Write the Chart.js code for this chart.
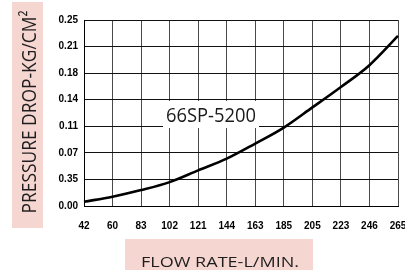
<!DOCTYPE html>
<html>
<head>
<meta charset="utf-8">
<script src="https://cdn.jsdelivr.net/npm/chart.js@4/dist/chart.umd.min.js"></script>
<style>
  html, body { margin: 0; padding: 0; background: #fff; }
  #wrap { position: relative; width: 405px; height: 270px; }
</style>
</head>
<body>
<div id="wrap"><canvas id="chart" width="405" height="270"></canvas></div>
<script>
(function () {
  var FLOW_LABELS = ['42', '60', '83', '102', '121', '144', '163', '185', '205', '223', '246', '265'];
  var PRESSURE = [0.0057, 0.0125, 0.0214, 0.0321, 0.0479, 0.0636, 0.0839, 0.1054, 0.1325, 0.160, 0.1893, 0.2286];
  // tick labels as printed on the sheet, bottom to top (the "0.35" is theirs)
  var Y_LABELS = ['0.00', '0.35', '0.07', '0.11', '0.14', '0.18', '0.21', '0.25'];
  var Y_MAX = 0.25;
  var MODEL = '66SP-5200';
  var X_TITLE = 'FLOW RATE-L/MIN.';
  var Y_TITLE = 'PRESSURE DROP-KG/CM\u00B2';

  var PINK = '#f5d6d0';
  var TITLE_FONT = '"Open Sans", "Noto Sans", sans-serif';
  var TICK_FONT = { family: '"Liberation Sans", Arial, sans-serif', size: 10, weight: 'bold' };

  // draw text squeezed/stretched to a given width
  function fitText(c, text, x, y, width) {
    var w = c.measureText(text).width;
    c.save();
    c.translate(x, y);
    c.scale(width / w, 1);
    c.fillText(text, 0, 0);
    c.restore();
  }

  var decorPlugin = {
    id: 'decor',
    beforeDraw: function (chart) {
      var c = chart.ctx;
      c.save();
      c.fillStyle = PINK;
      c.fillRect(12, 2, 31, 226);
      c.fillRect(125, 239, 188, 31);
      c.fillStyle = '#1e1e1e';
      c.textAlign = 'center';
      c.textBaseline = 'alphabetic';

      c.font = '14px ' + TITLE_FONT;
      fitText(c, X_TITLE, 220, 267, 158);

      c.save();
      c.translate(36, 112);
      c.rotate(-Math.PI / 2);
      c.font = '20px ' + TITLE_FONT;
      fitText(c, Y_TITLE, 0, 0, 203);
      c.restore();
      c.restore();
    },
    afterDatasetsDraw: function (chart) {
      var c = chart.ctx;
      c.save();
      c.fillStyle = '#fff';
      c.fillRect(163, 101, 96, 27);
      c.fillStyle = '#1a1a1a';
      c.textAlign = 'center';
      c.textBaseline = 'alphabetic';
      c.font = '20px ' + TITLE_FONT;
      fitText(c, MODEL, 211, 122, 90);
      c.restore();
    },
  };

  new Chart(document.getElementById('chart'), {
    type: 'line',
    data: {
      labels: FLOW_LABELS,
      datasets: [{
        data: PRESSURE,
        borderColor: '#000',
        borderWidth: 2.6,
        pointRadius: 0,
        fill: false,
        cubicInterpolationMode: 'monotone',
      }],
    },
    options: {
      responsive: false,
      animation: false,
      devicePixelRatio: 1,
      layout: { padding: { left: 0, right: 7, top: 20, bottom: 0 } },
      plugins: {
        legend: { display: false },
        tooltip: { enabled: false },
      },
      scales: {
        x: {
          offset: false,
          afterFit: function (s) {
            s.height = 64;
            s.paddingLeft = 0;
            s.paddingRight = 0;
          },
          grid: { color: '#4a4a4a', lineWidth: 1, drawTicks: false },
          border: { color: '#000', width: 1 },
          ticks: { color: '#000', font: TICK_FONT, padding: 14, maxRotation: 0, autoSkip: false },
        },
        y: {
          min: 0,
          max: Y_MAX,
          afterFit: function (s) {
            s.width = 84;
            s.paddingTop = 0;
            s.paddingBottom = 0;
          },
          afterBuildTicks: function (s) {
            s.ticks = Y_LABELS.map(function (l, i) { return { value: i * Y_MAX / (Y_LABELS.length - 1) }; });
          },
          grid: { color: '#111', lineWidth: 1, drawTicks: false },
          border: { color: '#000', width: 1 },
          ticks: {
            color: '#000',
            font: TICK_FONT,
            padding: 6,
            callback: function (v, i) { return Y_LABELS[i]; },
          },
        },
      },
    },
    plugins: [decorPlugin],
  });
})();
</script>
</body>
</html>
